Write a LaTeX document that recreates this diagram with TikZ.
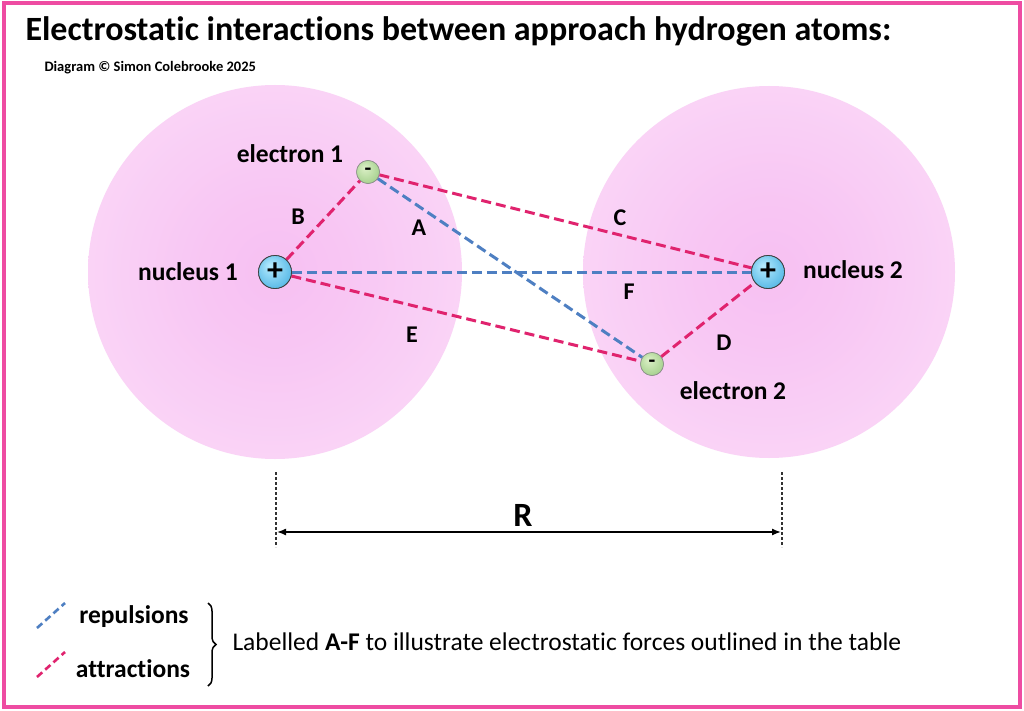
\documentclass[tikz,border=0pt]{standalone}
\usepackage{fontspec}
\setmainfont{Carlito}[Ligatures=NoCommon]
\usetikzlibrary{arrows.meta,decorations.pathreplacing,calc}
\definecolor{framepink}{HTML}{EE4CA2}
\definecolor{attr}{HTML}{E0236E}
\definecolor{repl}{HTML}{4E7FC2}
\definecolor{atomin}{HTML}{F7C0F2}
\definecolor{atomout}{HTML}{FDE9FB}
\definecolor{nucin}{HTML}{B8ECFF}
\definecolor{nucout}{HTML}{2FA8E0}
\definecolor{elin}{HTML}{DDF0C8}
\definecolor{elout}{HTML}{96C97A}
\pgfdeclareradialshading{atomshade}{\pgfpoint{0bp}{0bp}}{color(0bp)=(atomin); color(10bp)=(atomin!85!atomout); color(50bp)=(atomout)}
\pgfdeclareradialshading{nucshade}{\pgfpoint{-8bp}{10bp}}{color(0bp)=(nucin); color(30bp)=(nucout!80); color(50bp)=(nucout)}
\pgfdeclareradialshading{elshade}{\pgfpoint{-8bp}{10bp}}{color(0bp)=(elin); color(30bp)=(elout!85); color(50bp)=(elout)}
\tikzset{
  attrline/.style={draw=attr, line width=3pt, dash pattern=on 10pt off 5pt},
  replline/.style={draw=repl, line width=3pt, dash pattern=on 10pt off 5pt},
  nucleus/.style={circle, minimum size=33pt, inner sep=0pt, shading=nucshade, draw=black!75, line width=0.8pt, font=\fontsize{32}{32}\selectfont\bfseries},
  electron/.style={circle, minimum size=23pt, inner sep=0pt, shading=elshade, draw=black!45, line width=0.6pt, font=\fontsize{22}{22}\selectfont\bfseries},
  lbl/.style={font=\fontsize{25.5}{27}\selectfont\bfseries},
  letter/.style={font=\fontsize{24}{25}\selectfont\bfseries}
}
\begin{document}
\begin{tikzpicture}[x=1pt,y=-1pt]
\useasboundingbox (0,0) rectangle (1024,711);
\fill[white] (0,0) rectangle (1024,711);
\draw[framepink, line width=4pt] (4,3) rectangle (1020,707);
% title
\node[anchor=west, font=\fontsize{34}{36}\selectfont\bfseries] (title) at (22,31) {Electrostatic interactions between approach hydrogen atoms:};
\node[anchor=west, font=\fontsize{14.5}{16}\selectfont\bfseries] (credit) at (41,68) {Diagram © Simon Colebrooke 2025};
% atoms
\shade[shading=atomshade] (275,272) circle (187);
\shade[shading=atomshade] (769,272) circle (186);
% particles
\node[nucleus] (n1) at (275,272) {};
\node[nucleus] (n2) at (768,272) {};
\node[electron] (e1) at (368,172) {};
\node[electron] (e2) at (652,364) {};
% connectors
\draw[replline] (e1) -- (e2);
\draw[replline] (n1) -- (n2);
\draw[attrline] (n1) -- (e1);
\draw[attrline] (e1) -- (n2);
\draw[attrline] (n1) -- (e2);
\draw[attrline] (e2) -- (n2);
\node[nucleus] at (n1) {+};
\node[nucleus] at (n2) {+};
\node[electron] at (e1) {-};
\node[electron] at (e2) {-};
% letters
\node[letter] (lB) at (298,217) {B};
\node[letter] (lA) at (419,228) {A};
\node[letter] (lC) at (620,218) {C};
\node[letter] (lF) at (629,292) {F};
\node[letter] (lE) at (412,335) {E};
\node[letter] (lD) at (724,343) {D};
% particle labels
\node[lbl] (te1) at (290,154) {electron 1};
\node[lbl] (tn1) at (188,272) {nucleus 1};
\node[lbl] (tn2) at (853,270) {nucleus 2};
\node[lbl] (te2) at (733,391) {electron 2};
% R
\coordinate (r1t) at (276,472);
\coordinate (r1b) at (276,547);
\coordinate (r2t) at (782,472);
\coordinate (r2b) at (782,547);
\draw[black!80, line width=1.4pt, dash pattern=on 3pt off 2pt] (r1t) -- (r1b);
\draw[black!80, line width=1.4pt, dash pattern=on 3pt off 2pt] (r2t) -- (r2b);
\coordinate (ra) at (277,532);
\coordinate (rb) at (781,532);
\draw[black, line width=1.4pt, {Latex[length=9pt,width=7pt]}-{Latex[length=9pt,width=7pt]}] (ra) -- (rb);
\node[font=\fontsize{34}{35}\selectfont\bfseries] (R) at (523,515) {R};
% legend
\coordinate (lr1) at (37,628);
\coordinate (lr2) at (65,603);
\coordinate (la1) at (37,677);
\coordinate (la2) at (65,652);
\draw[replline, line width=2.6pt, dash pattern=on 7pt off 4pt] (lr1) -- (lr2);
\draw[attrline, line width=2.6pt, dash pattern=on 7pt off 4pt] (la1) -- (la2);
\node[lbl] (trep) at (134,617) {repulsions};
\node[lbl] (tatt) at (133,669) {attractions};
\coordinate (bt) at (208,603);
\coordinate (bb) at (208,686);
\draw[black, line width=1.5pt, decorate, decoration={brace, amplitude=8pt}] (bt) -- (bb);
\node[anchor=west, font=\fontsize{25.5}{27}\selectfont] (note) at (229,642) {Labelled \textbf{A-F} to illustrate electrostatic forces outlined in the table};
\end{tikzpicture}
\end{document}
